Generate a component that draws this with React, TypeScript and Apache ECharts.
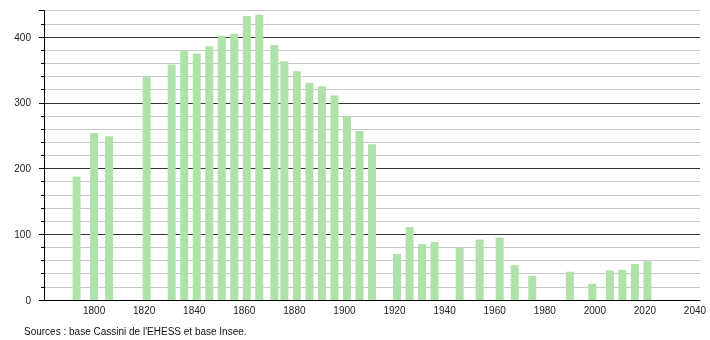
import React, { useEffect, useRef } from 'react';
import * as echarts from 'echarts';

const years = [
  1793, 1800, 1806, 1821, 1831, 1836, 1841, 1846, 1851, 1856, 1861, 1866,
  1872, 1876, 1881, 1886, 1891, 1896, 1901, 1906, 1911, 1921, 1926, 1931,
  1936, 1946, 1954, 1962, 1968, 1975, 1990, 1999, 2006, 2011, 2016, 2021,
];
const population = [
  188, 254, 249, 340, 358, 379, 375, 386, 402, 405, 432, 434,
  388, 363, 348, 330, 325, 311, 280, 257, 237, 70, 111, 85,
  88, 80, 92, 95, 53, 37, 43, 25, 45, 46, 55, 59,
];
const xMin = 1780;
const xMax = 2042;
const xStep = 20;
const yMin = 0;
const yMax = 440;
const yMajorStep = 100;
const yMinorStep = 20;
const sourceText = "Sources : base Cassini de l'EHESS et base Insee.";

export default function App() {
  const ref = useRef<HTMLDivElement>(null);
  useEffect(() => {
    const chart = echarts.init(ref.current!, null, { renderer: 'svg' });
    const font = 'Liberation Sans, Arial, sans-serif';
    chart.setOption({
      animation: false,
      title: {
        text: sourceText,
        left: 19,
        top: 321,
        textStyle: { fontSize: 10, fontWeight: 'normal', color: '#111', fontFamily: font },
      },
      grid: { left: 44, right: 10, top: 10.7, bottom: 40 },
      xAxis: {
        type: 'value',
        min: xMin,
        max: xMax,
        interval: xStep,
        axisLine: { show: true, lineStyle: { color: '#000', width: 1 } },
        axisTick: { show: false },
        splitLine: { show: false },
        axisLabel: {
          margin: 5,
          fontSize: 10,
          color: '#222',
          fontFamily: font,
          formatter: (v: number) => (v % xStep === 0 && v !== xMin ? String(v) : ''),
        },
      },
      yAxis: [
        {
          type: 'value',
          min: yMin,
          max: yMax,
          interval: yMajorStep,
          position: 'left',
          axisLine: { show: true, lineStyle: { color: '#000', width: 1 } },
          axisTick: { show: true, length: 5, lineStyle: { color: '#000' } },
          splitLine: { show: false },
          axisLabel: {
            margin: 13,
            fontSize: 10,
            color: '#222',
            fontFamily: font,
            formatter: (v: number) => (v % yMajorStep === 0 ? String(v) : ''),
          },
        },
        {
          type: 'value',
          min: yMin,
          max: yMax,
          interval: yMinorStep,
          position: 'left',
          axisLine: { show: false },
          axisTick: { show: true, length: 3, lineStyle: { color: '#000' } },
          axisLabel: { show: false },
          splitLine: {
            show: true,
            lineStyle: { color: ['#333', '#c8c8c8', '#c8c8c8', '#c8c8c8', '#c8c8c8'], width: 1 },
          },
        },
      ],
      series: [
        {
          type: 'bar',
          yAxisIndex: 0,
          barWidth: 8,
          itemStyle: { color: '#aee2a9' },
          data: years.map((y, i) => [y, population[i]]),
        },
      ],
    });
    return () => chart.dispose();
  }, []);
  return <div ref={ref} style={{ position: 'fixed', left: 0, top: 0, width: 710, height: 340 }} />;
}
